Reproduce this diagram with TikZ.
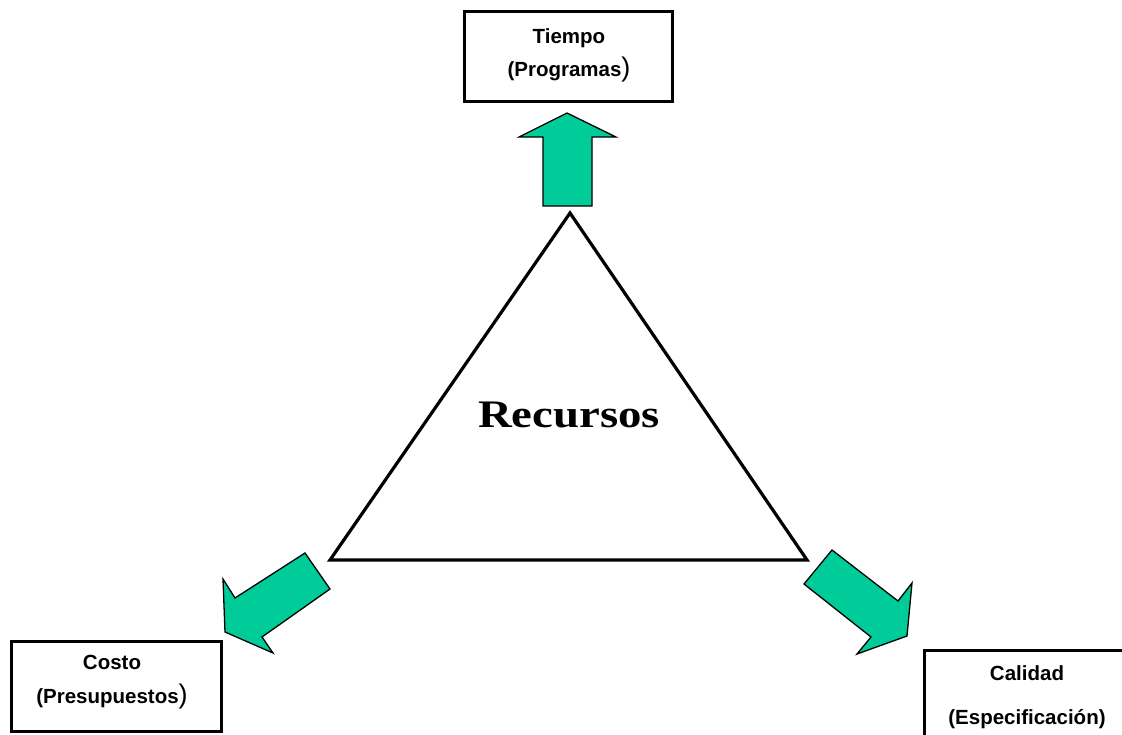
\documentclass[tikz,border=0pt]{standalone}
\usepackage{fontspec}
\setmainfont{Liberation Sans}
\newfontfamily\serifbold{Liberation Serif}
\definecolor{arrowgreen}{HTML}{00CC99}
\newcommand{\bigclose}{{\mdseries\fontsize{27}{27}\selectfont)}}
\begin{document}
\begin{tikzpicture}[x=1pt,y=-1pt,
  box/.style={draw=black,line width=3pt,fill=white,inner sep=0pt,anchor=north west},
  label/.style={anchor=base,inner sep=0pt,font=\fontsize{20.5}{24}\selectfont\bfseries},
  blockarrow/.style={fill=arrowgreen,draw=black,line width=1.3pt,line join=miter}]
\useasboundingbox (0,0) rectangle (1122,734);
\clip (0,0) rectangle (1122,734);

% boxes
\node[box,minimum width=208pt,minimum height=90pt] (tiempo) at (463,10) {};
\node[box,minimum width=210pt,minimum height=90pt] (costo) at (10,640) {};
\node[box,minimum width=208pt,minimum height=90pt] (calidad) at (923,649) {};

% box texts
\node[label] (t1) at (569,43) {Tiempo};
\node[label] (t2) at (569,76) {(Programas\bigclose};
\node[label] (c1) at (112,669) {Costo};
\node[label] (c2) at (112,703) {(Presupuestos\bigclose};
\node[label] (q1) at (1027,680) {Calidad};
\node[label] (q2) at (1027,724) {(Especificación)};

% triangle
\coordinate (apex) at (570,213);
\coordinate (bl) at (330,560);
\coordinate (br) at (807,560);
\draw[line width=3.2pt,line join=miter] (apex) -- (bl) -- (br) -- cycle;

\node[anchor=base,inner sep=0pt,xscale=1.2,font=\serifbold\fontsize{39}{40}\selectfont\bfseries] (rec) at (569,427) {Recursos};

% block arrows
\draw[blockarrow] (543,206) -- (543,137) -- (519,137) -- (567,113) -- (616,137) -- (592,137) -- (592,206) -- cycle;
\draw[blockarrow] (305,553) -- (330,589) -- (262,637) -- (273,653) -- (225,632) -- (223,579) -- (235,598) -- cycle;
\draw[blockarrow] (804,584) -- (832,550) -- (898,601) -- (912,583) -- (907,636) -- (857,654) -- (871,637) -- cycle;
\end{tikzpicture}
\end{document}
